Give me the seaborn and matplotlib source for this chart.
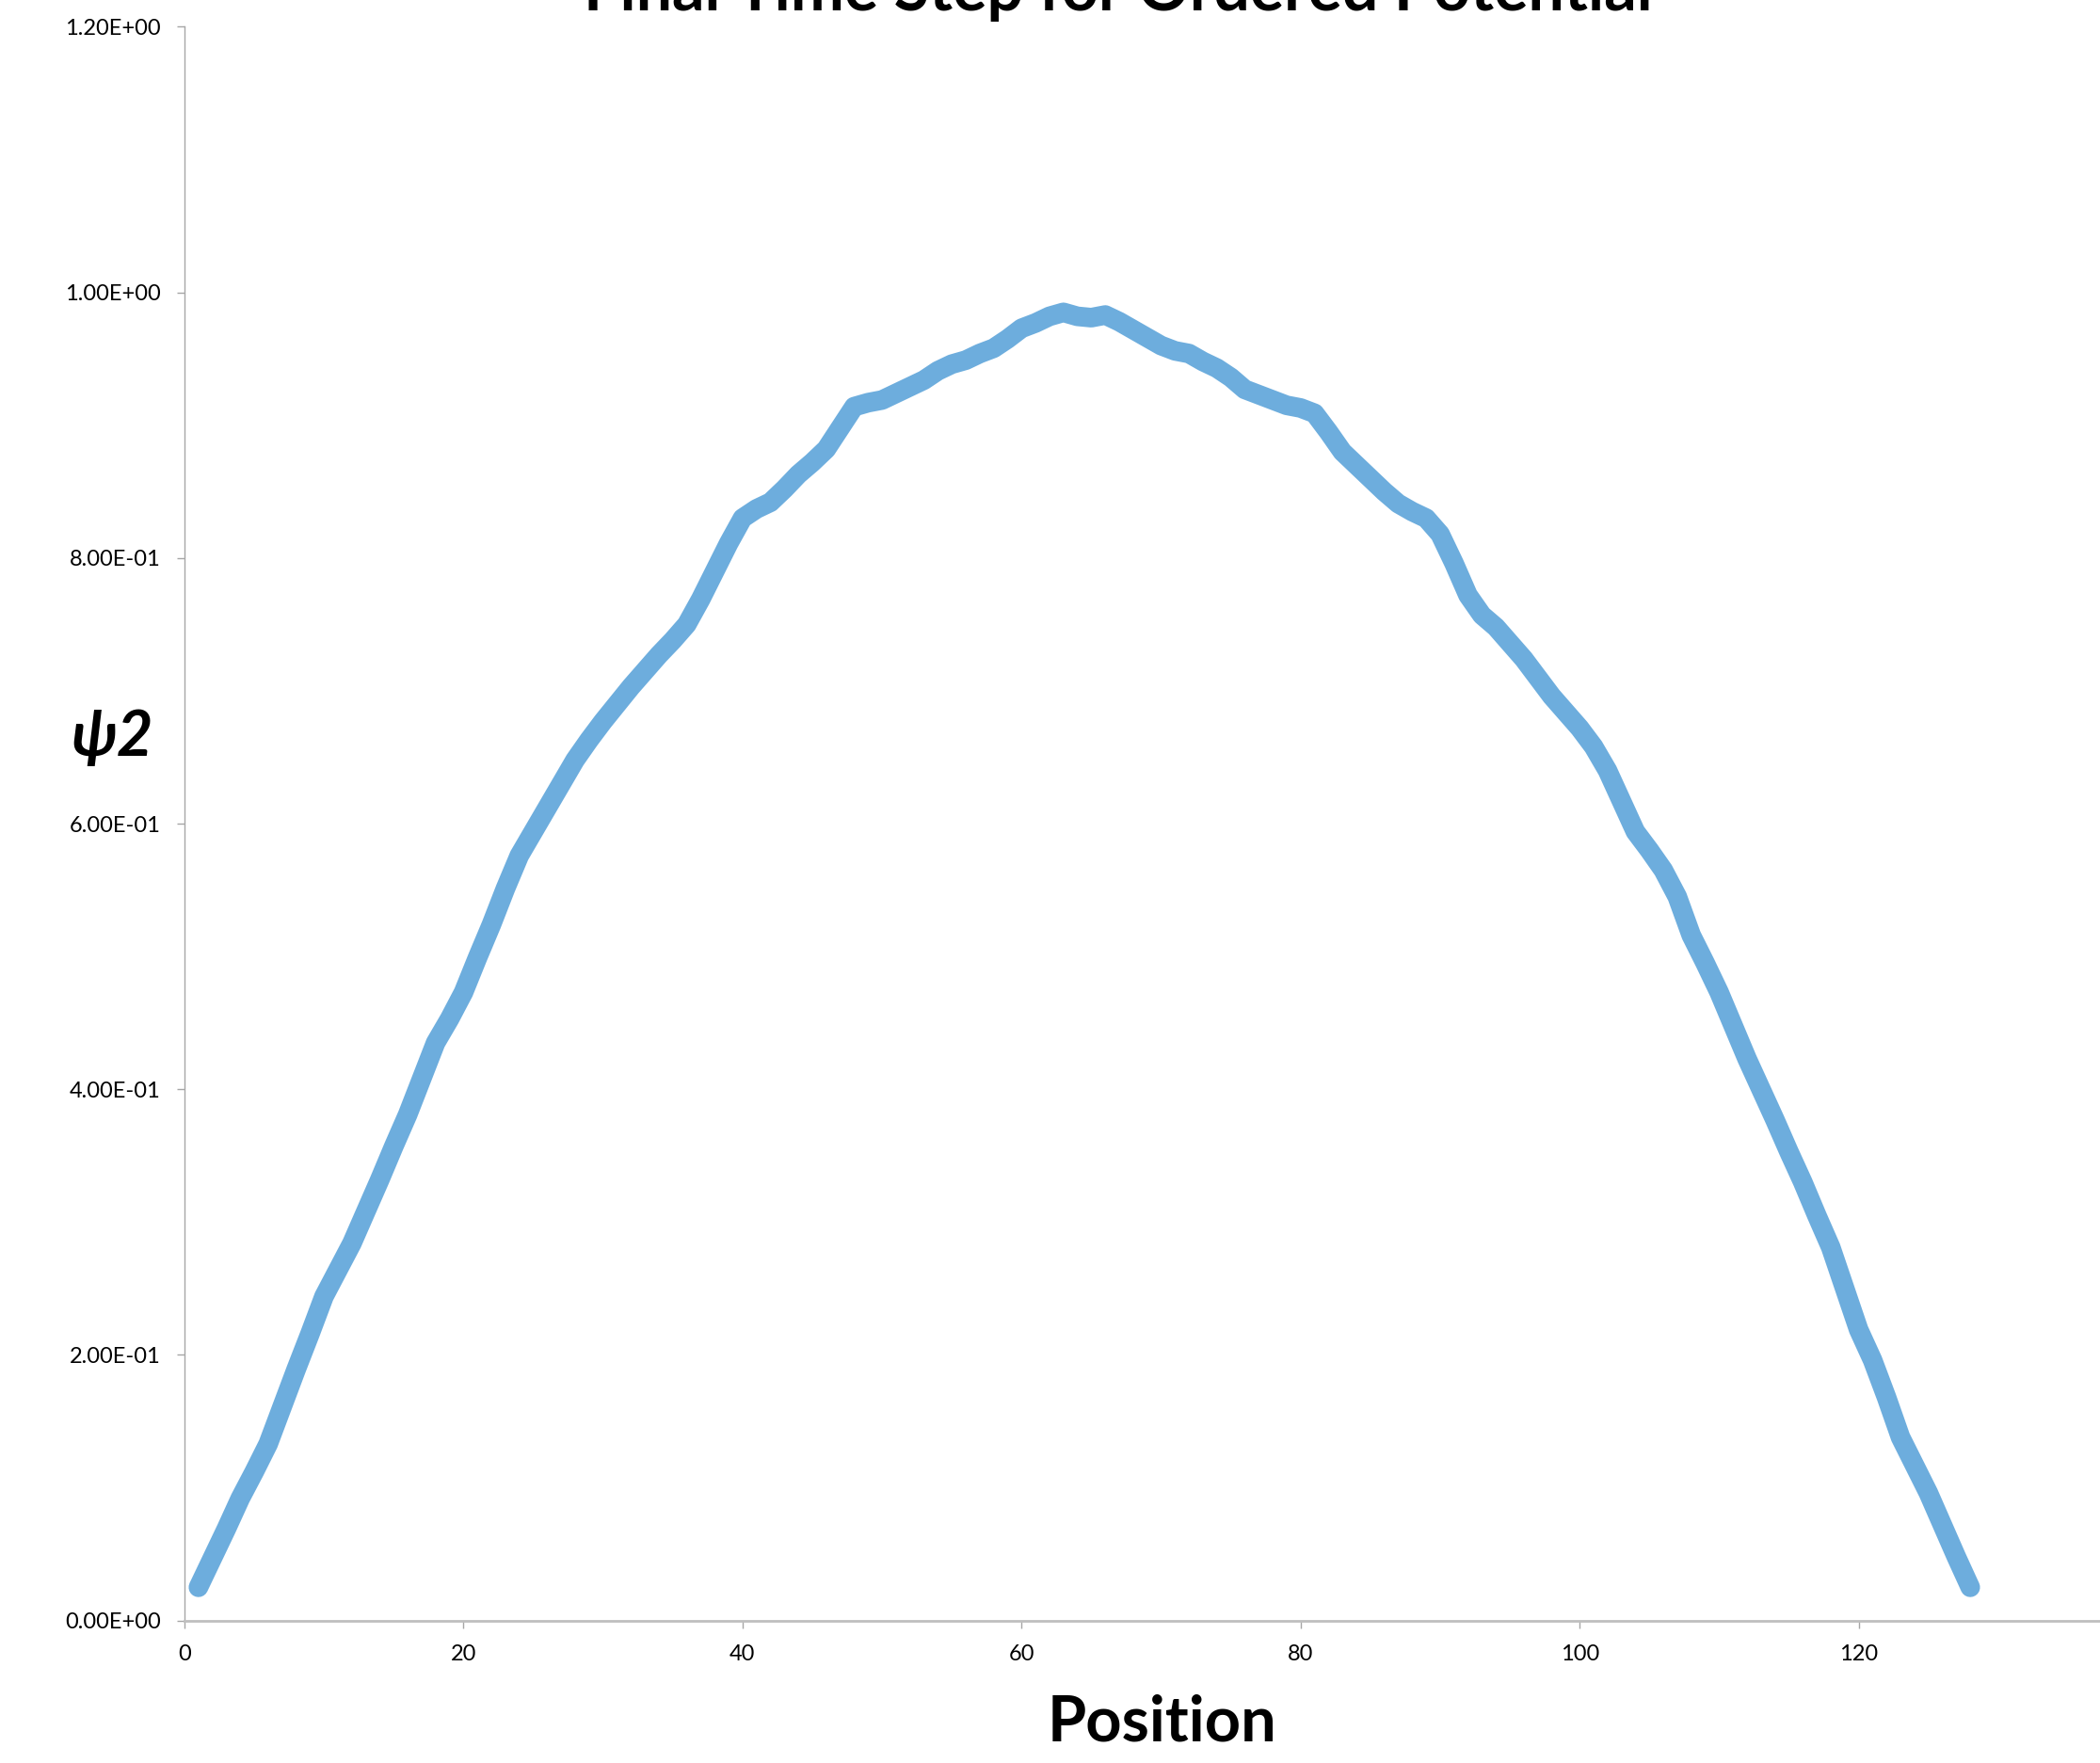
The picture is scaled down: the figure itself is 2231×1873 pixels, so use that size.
import numpy as np
import pandas as pd
import matplotlib
matplotlib.use("Agg")
import matplotlib.pyplot as plt
from matplotlib.ticker import FuncFormatter, FixedLocator
import seaborn as sns

# ---- data ----
positions = list(range(1, 129))
psi2 = [
    0.025, 0.047, 0.069, 0.092, 0.112, 0.133, 0.161, 0.189, 0.216, 0.244,
    0.264, 0.284, 0.308, 0.332, 0.357, 0.381, 0.408, 0.435, 0.453, 0.473,
    0.499, 0.524, 0.551, 0.576, 0.594, 0.612, 0.630, 0.648, 0.663, 0.677,
    0.690, 0.703, 0.715, 0.727, 0.738, 0.750, 0.769, 0.790, 0.811, 0.830,
    0.837, 0.842, 0.852, 0.863, 0.872, 0.882, 0.898, 0.914, 0.917, 0.919,
    0.924, 0.929, 0.934, 0.941, 0.946, 0.949, 0.954, 0.958, 0.965, 0.973,
    0.977, 0.982, 0.985, 0.982, 0.981, 0.983, 0.978, 0.972, 0.966, 0.960,
    0.956, 0.954, 0.948, 0.943, 0.936, 0.927, 0.923, 0.919, 0.915, 0.913,
    0.909, 0.895, 0.880, 0.870, 0.860, 0.850, 0.841, 0.835, 0.830, 0.818,
    0.796, 0.772, 0.757, 0.748, 0.736, 0.724, 0.710, 0.696, 0.684, 0.672,
    0.658, 0.640, 0.617, 0.594, 0.580, 0.565, 0.545, 0.516, 0.495, 0.473,
    0.448, 0.423, 0.400, 0.377, 0.353, 0.330, 0.305, 0.281, 0.250, 0.219,
    0.196, 0.168, 0.138, 0.117, 0.096, 0.072, 0.048, 0.025,
]
x_ticks = [0, 20, 40, 60, 80, 100, 120]
y_ticks = [0.0, 0.2, 0.4, 0.6, 0.8, 1.0, 1.2]
title_text = "Final Time Step for Ordered Potential"
x_label = "Position"
y_label = "\u03c82"

df = pd.DataFrame({"Position": positions, "psi2": psi2})

sns.set_theme(style="white")
plt.rcParams["font.family"] = ["Lato", "DejaVu Sans"]

W, H = 2231, 1873
fig = plt.figure(figsize=(W / 100, H / 100), dpi=100)
ax = fig.add_axes([196 / W, 1 - 1721.6 / H, 1 - 196 / W, (1721.6 - 28.5) / H])

line_color = "#6DADDD"
sns.lineplot(data=df, x="Position", y="psi2", ax=ax, color=line_color,
             linewidth=15, solid_capstyle="round", solid_joinstyle="round",
             legend=False)

ax.set_xlim(0, 137.3)
ax.set_ylim(0, 1.2)
ax.xaxis.set_major_locator(FixedLocator(x_ticks))
ax.yaxis.set_major_locator(FixedLocator(y_ticks))
ax.yaxis.set_major_formatter(FuncFormatter(lambda v, p: f"{v:.2E}"))
ax.set_xlabel("")
ax.set_ylabel("")

sns.despine(ax=ax)
ax.spines["left"].set_color("#A6A6A6")
ax.spines["left"].set_linewidth(1.0)
ax.spines["bottom"].set_color("#BFBFBF")
ax.spines["bottom"].set_linewidth(2.0)

ax.tick_params(axis="both", which="major", direction="out", length=6,
               width=1.0, color="#A6A6A6", labelsize=17, labelcolor="black",
               pad=12, left=True, bottom=True)

fig.text(1188 / W, 1 - 11 / H, title_text, ha="center", va="baseline",
         fontsize=49, fontweight="bold", color="black")
fig.text(1234 / W, 1 - 1850 / H, x_label, ha="center", va="baseline",
         fontsize=48, fontweight="bold", color="black")
fig.text(119 / W, 1 - 803 / H, y_label, ha="center", va="baseline",
         fontsize=48, fontweight="bold", fontstyle="italic", color="black",
         family=["Lato", "DejaVu Sans"])

fig.savefig("out.png", dpi=100, facecolor="white")
